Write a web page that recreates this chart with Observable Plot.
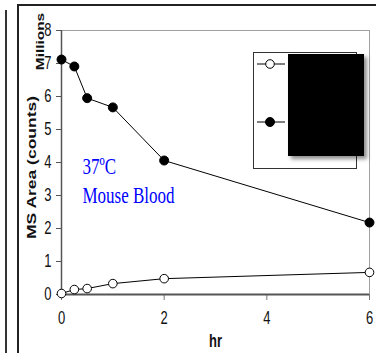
<!DOCTYPE html>
<html>
<head>
<meta charset="utf-8">
<script src="https://cdn.jsdelivr.net/npm/d3@7"></script>
<script src="https://cdn.jsdelivr.net/npm/@observablehq/plot@0.6"></script>
<style>
  html, body { margin: 0; padding: 0; background: white; }
  #wrap { position: relative; width: 376px; height: 353px; overflow: hidden; background: white; }
  #wrap svg.plot { position: absolute; left: 0; top: 0; }
  .deco { position: absolute; box-sizing: border-box; }
</style>
</head>
<body>
<div id="wrap"></div>
<script>
// ---- data ----
const hours = [0, 0.25, 0.5, 1, 2, 6];
const filledSeries = [7.12, 6.91, 5.95, 5.67, 4.06, 2.18];
const openSeries = [0.03, 0.15, 0.18, 0.33, 0.48, 0.67];
const xTicks = [0, 2, 4, 6];
const yTicks = [0, 1, 2, 3, 4, 5, 6, 7, 8];
const xLabel = "hr";
const yLabel = "MS Area (counts)";
const yUnit = "Millions";
const annotation = ["37ºC", "Mouse Blood"];

const filledRows = hours.map((h, i) => ({hr: h, v: filledSeries[i]}));
const openRows = hours.map((h, i) => ({hr: h, v: openSeries[i]}));

const STRETCH = 1.4;

const chart = Plot.plot({
  width: 376,
  height: 353,
  marginLeft: 61,
  marginRight: 7,
  marginTop: 30,
  marginBottom: 59,
  style: {fontFamily: "Liberation Sans, Arial, sans-serif", fontSize: "13px", background: "white", overflow: "visible"},
  x: {domain: [0, 6]},
  y: {domain: [0, 8]},
  marks: [
    Plot.ruleY([8], {stroke: "#a0a0a0", strokeWidth: 1}),
    Plot.ruleX([6], {stroke: "#a0a0a0", strokeWidth: 1}),
    Plot.axisX({ticks: xTicks, tickFormat: d => String(d), tickSize: 6, tickPadding: 12, label: null, stroke: "#777", color: "#111"}),
    Plot.axisY({ticks: yTicks, tickFormat: d => String(d), tickSize: 5, tickPadding: 5, label: null, stroke: "#555", color: "#111"}),
    Plot.ruleY([0], {stroke: "#555", strokeWidth: 2}),
    Plot.ruleX([0], {stroke: "#555", strokeWidth: 1.5}),
    Plot.line(filledRows, {x: "hr", y: "v", stroke: "black", strokeWidth: 1}),
    Plot.line(openRows, {x: "hr", y: "v", stroke: "black", strokeWidth: 1}),
    Plot.dot(filledRows, {x: "hr", y: "v", r: 4.5, fill: "black", stroke: "black", strokeWidth: 1}),
    Plot.dot(openRows, {x: "hr", y: "v", r: 4.3, fill: "white", stroke: "black", strokeWidth: 1}),
    Plot.text([xLabel], {frameAnchor: "bottom", text: d => d, dy: 51, fontWeight: "bold", fontSize: 13, fill: "#111"}),
    Plot.text([yLabel], {frameAnchor: "left", text: d => d, rotate: -90, textAnchor: "middle", dx: -30, dy: 5, fontWeight: "bold", fontSize: 12.5, fill: "#111"}),
    Plot.text([yUnit], {frameAnchor: "left", text: d => d, rotate: -90, textAnchor: "middle", dx: -21, dy: -121, fontWeight: "bold", fontSize: 11, fill: "#111"}),
    Plot.text([annotation.join("\n")], {frameAnchor: "top-left", text: d => d, textAnchor: "start", lineAnchor: "top", dx: 21, dy: 130, lineHeight: 1.25, fontFamily: "Liberation Serif, Times New Roman, serif", fontSize: 17, fill: "#0000ff"})
  ]
});
chart.classList.add("plot");
const wrap = document.getElementById("wrap");
wrap.appendChild(chart);

// vertical stretch of all texts (the reference image has vertically stretched lettering)
const svgR = chart.getBoundingClientRect();
chart.querySelectorAll("text").forEach(t => {
  const r = t.getBoundingClientRect();
  if (!r.height) return;
  const parent = t.parentNode;
  const p = new DOMPoint(r.x - svgR.x + r.width / 2, r.y - svgR.y + r.height / 2)
    .matrixTransform(parent.getCTM().inverse());
  const g = document.createElementNS("http://www.w3.org/2000/svg", "g");
  g.setAttribute("transform", `translate(0,${p.y}) scale(1,${STRETCH}) translate(0,${-p.y})`);
  parent.insertBefore(g, t);
  g.appendChild(t);
});

// decorations: outer frames
function deco(style) {
  const d = document.createElement("div");
  d.className = "deco";
  Object.assign(d.style, style);
  wrap.appendChild(d);
  return d;
}
deco({left: "5px", top: "10px", width: "2px", height: "343px", background: "#333"});
deco({left: "17px", top: "4px", width: "370px", height: "360px", borderTop: "2px solid #222", borderLeft: "2px solid #222"});

// legend box
const leg = deco({left: "253px", top: "52px", width: "104px", height: "117px", border: "1px solid #333", background: "white"});
leg.innerHTML = `<svg width="104" height="117" style="position:absolute;left:-1px;top:-1px">
  <line x1="4" x2="32" y1="12" y2="12" stroke="black"/>
  <circle cx="17" cy="12" r="4.3" fill="white" stroke="black"/>
  <line x1="4" x2="32" y1="70" y2="70" stroke="black"/>
  <circle cx="17" cy="70" r="4.5" fill="black" stroke="black"/>
</svg>`;
deco({left: "288px", top: "54px", width: "76px", height: "102px", background: "black", boxShadow: "3px 3px 4px rgba(0,0,0,0.45)"});
</script>
</body>
</html>
